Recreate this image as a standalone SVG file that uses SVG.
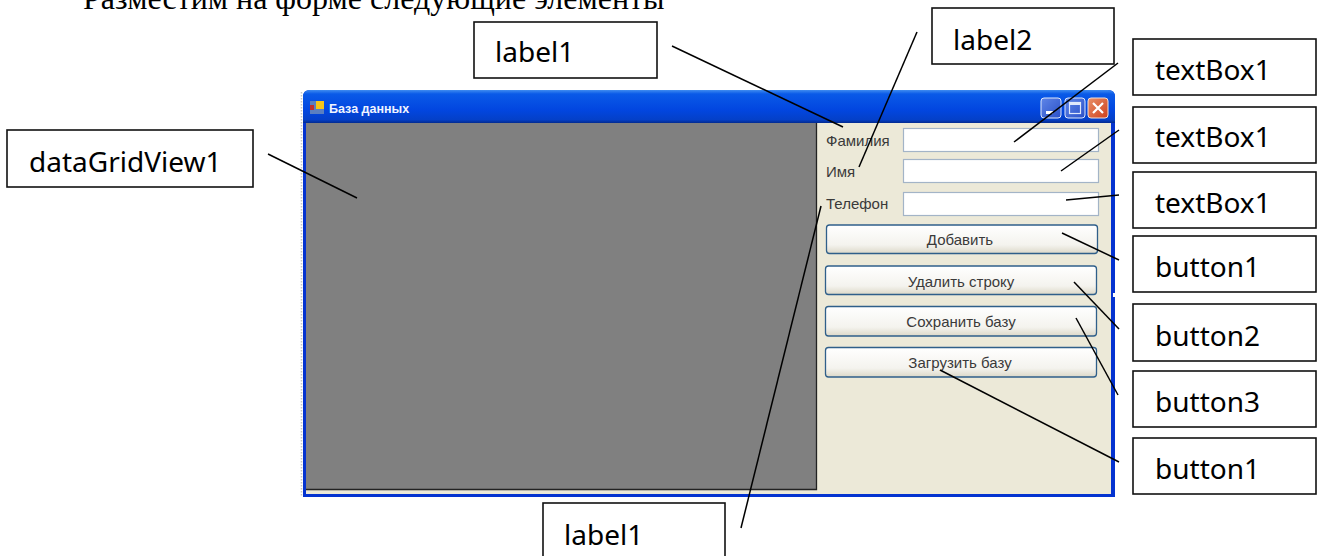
<svg xmlns="http://www.w3.org/2000/svg" width="1319" height="556" viewBox="0 0 1319 556">
<style>
.box{fill:#fff;stroke:#111;stroke-width:1.6}
.lbl{font-family:"Noto Sans","Open Sans",sans-serif;font-size:28px;fill:#000}
.ui{font-family:"Liberation Sans",Arial,sans-serif;font-size:15px;fill:#3a3a3a}
.tb{fill:#fff;stroke:#a3b4c7;stroke-width:1.2}
.btn{fill:url(#btnG);stroke:#2f5f8a;stroke-width:1.3}
.conn line{stroke:#000;stroke-width:1.5;fill:none}
.wb{stroke:#dfe8fb;stroke-width:1;fill:url(#wbG)}
</style>
<defs>
<linearGradient id="titleG" x1="0" y1="0" x2="0" y2="1"><stop offset="0" stop-color="#3f8cf0"/><stop offset=".12" stop-color="#0a5ae8"/><stop offset=".6" stop-color="#0246e0"/><stop offset=".9" stop-color="#0440c8"/><stop offset="1" stop-color="#022a90"/></linearGradient>
<linearGradient id="btnG" x1="0" y1="0" x2="0" y2="1"><stop offset="0" stop-color="#fff"/><stop offset=".7" stop-color="#f4f3ee"/><stop offset="1" stop-color="#dcd8c8"/></linearGradient>
<linearGradient id="wbG" x1="0" y1="0" x2="1" y2="1"><stop offset="0" stop-color="#5f86e8"/><stop offset="1" stop-color="#2a50c8"/></linearGradient>
<linearGradient id="clG" x1="0" y1="0" x2="1" y2="1"><stop offset="0" stop-color="#e8916a"/><stop offset="1" stop-color="#d0401c"/></linearGradient>
</defs>
<rect width="1319" height="556" fill="#fff"/>
<text x="83" y="9" font-family="'Liberation Serif',serif" font-size="32px" fill="#000">Разместим на форме следующие элементы</text>
<g id="form">
<path d="M301.500 92V497" stroke="#c8c8c8" stroke-width="1.500" stroke-dasharray="1.500 1.500" fill="none"/>
<path d="M303 497V97Q303 90 310 90H1108Q1115 90 1115 97V497Z" fill="#0433d0"/>
<path d="M303 123V97Q303 90 310 90H1108Q1115 90 1115 97V123Z" fill="url(#titleG)"/>
<rect x="306" y="123" width="805" height="371" fill="#ece9d8"/>
<rect x="306" y="123" width="511" height="366" fill="#808080"/>
<path d="M306 489.500H816.500V123" fill="none" stroke="#222" stroke-width="1.300"/>
<rect x="1113" y="293" width="2" height="4" fill="#fff"/>
<g id="icon"><rect x="310" y="101" width="14" height="13" fill="#5a7fc0"/><rect x="316" y="101" width="8" height="8" fill="#f5c518"/><rect x="310" y="105" width="4" height="5" fill="#c03030"/></g>
<text x="329" y="113" font-family="'Liberation Sans',sans-serif" font-size="12.500px" font-weight="bold" fill="#f0f4ff">База данных</text>
<g id="winbuttons">
<rect class="wb" x="1041" y="98" width="20" height="20" rx="3"/><rect x="1046" y="111" width="7" height="3" fill="#fff"/>
<rect class="wb" x="1065" y="98" width="20" height="20" rx="3"/><rect x="1069.500" y="102.500" width="11" height="11" fill="none" stroke="#dfe8fb" stroke-width="1.200"/><rect x="1069.500" y="102.500" width="11" height="2.500" fill="#dfe8fb"/>
<rect x="1088" y="98" width="20" height="20" rx="3" fill="url(#clG)" stroke="#f0e0d8"/><path d="M1093 103l10 10m0-10l-10 10" stroke="#fff" stroke-width="2.200"/>
</g>
</g>
<g id="ui-labels">
<text class="ui" x="826" y="146">Фамилия</text>
<text class="ui" x="826" y="177">Имя</text>
<text class="ui" x="826" y="209">Телефон</text>
</g>
<g id="ui-textboxes">
<rect class="tb" x="903.500" y="128.500" width="195" height="23"/>
<rect class="tb" x="903.500" y="159.500" width="195" height="23"/>
<rect class="tb" x="903.500" y="192.500" width="195" height="23"/>
</g>
<g id="ui-buttons" text-anchor="middle">
<rect class="btn" x="826.500" y="225" width="271" height="28.500" rx="3"/><text class="ui" x="960" y="245">Добавить</text>
<rect class="btn" x="825.500" y="266" width="271" height="28.500" rx="3"/><text class="ui" x="961" y="287">Удалить строку</text>
<rect class="btn" x="825.500" y="306.500" width="271" height="29.500" rx="3"/><text class="ui" x="961" y="327">Сохранить базу</text>
<rect class="btn" x="825.500" y="347.500" width="271" height="29.500" rx="3"/><text class="ui" x="960" y="368">Загрузить базу</text>
</g>
<g id="connectors" class="conn">
<line x1="672" y1="46" x2="843" y2="127"/>
<line x1="917" y1="32" x2="859" y2="167"/>
<line x1="1118" y1="63" x2="1014" y2="142"/>
<line x1="1119" y1="130" x2="1061" y2="171"/>
<line x1="1119" y1="195" x2="1066" y2="200"/>
<line x1="1062" y1="233" x2="1119" y2="260"/>
<line x1="1074" y1="282" x2="1119" y2="329"/>
<line x1="1076" y1="318" x2="1118" y2="395"/>
<line x1="940" y1="370" x2="1119" y2="462"/>
<line x1="268" y1="154" x2="357" y2="198"/>
<line x1="821" y1="206" x2="741" y2="528"/>
</g>
<g id="n-label1-top"><rect class="box" x="474" y="22" width="183" height="56"/><text class="lbl" x="495" y="62">label1</text></g>
<g id="n-label2"><rect class="box" x="932" y="8" width="182" height="56"/><text class="lbl" x="953" y="50">label2</text></g>
<g id="n-textbox1a"><rect class="box" x="1133" y="39" width="183" height="56"/><text class="lbl" x="1155" y="80">textBox1</text></g>
<g id="n-textbox1b"><rect class="box" x="1133" y="107" width="183" height="56"/><text class="lbl" x="1155" y="147">textBox1</text></g>
<g id="n-textbox1c"><rect class="box" x="1133" y="172" width="183" height="56"/><text class="lbl" x="1155" y="213">textBox1</text></g>
<g id="n-button1a"><rect class="box" x="1133" y="236" width="183" height="56"/><text class="lbl" x="1155" y="277">button1</text></g>
<g id="n-button2"><rect class="box" x="1133" y="304" width="183" height="57"/><text class="lbl" x="1155" y="346">button2</text></g>
<g id="n-button3"><rect class="box" x="1133" y="371" width="183" height="56"/><text class="lbl" x="1155" y="412">button3</text></g>
<g id="n-button1b"><rect class="box" x="1133" y="438" width="183" height="56"/><text class="lbl" x="1155" y="479">button1</text></g>
<g id="n-datagridview1"><rect class="box" x="7" y="130" width="246" height="57"/><text class="lbl" x="29" y="172">dataGridView1</text></g>
<g id="n-label1-bottom"><rect class="box" x="543" y="503" width="182" height="60"/><text class="lbl" x="564" y="545">label1</text></g>
</svg>
